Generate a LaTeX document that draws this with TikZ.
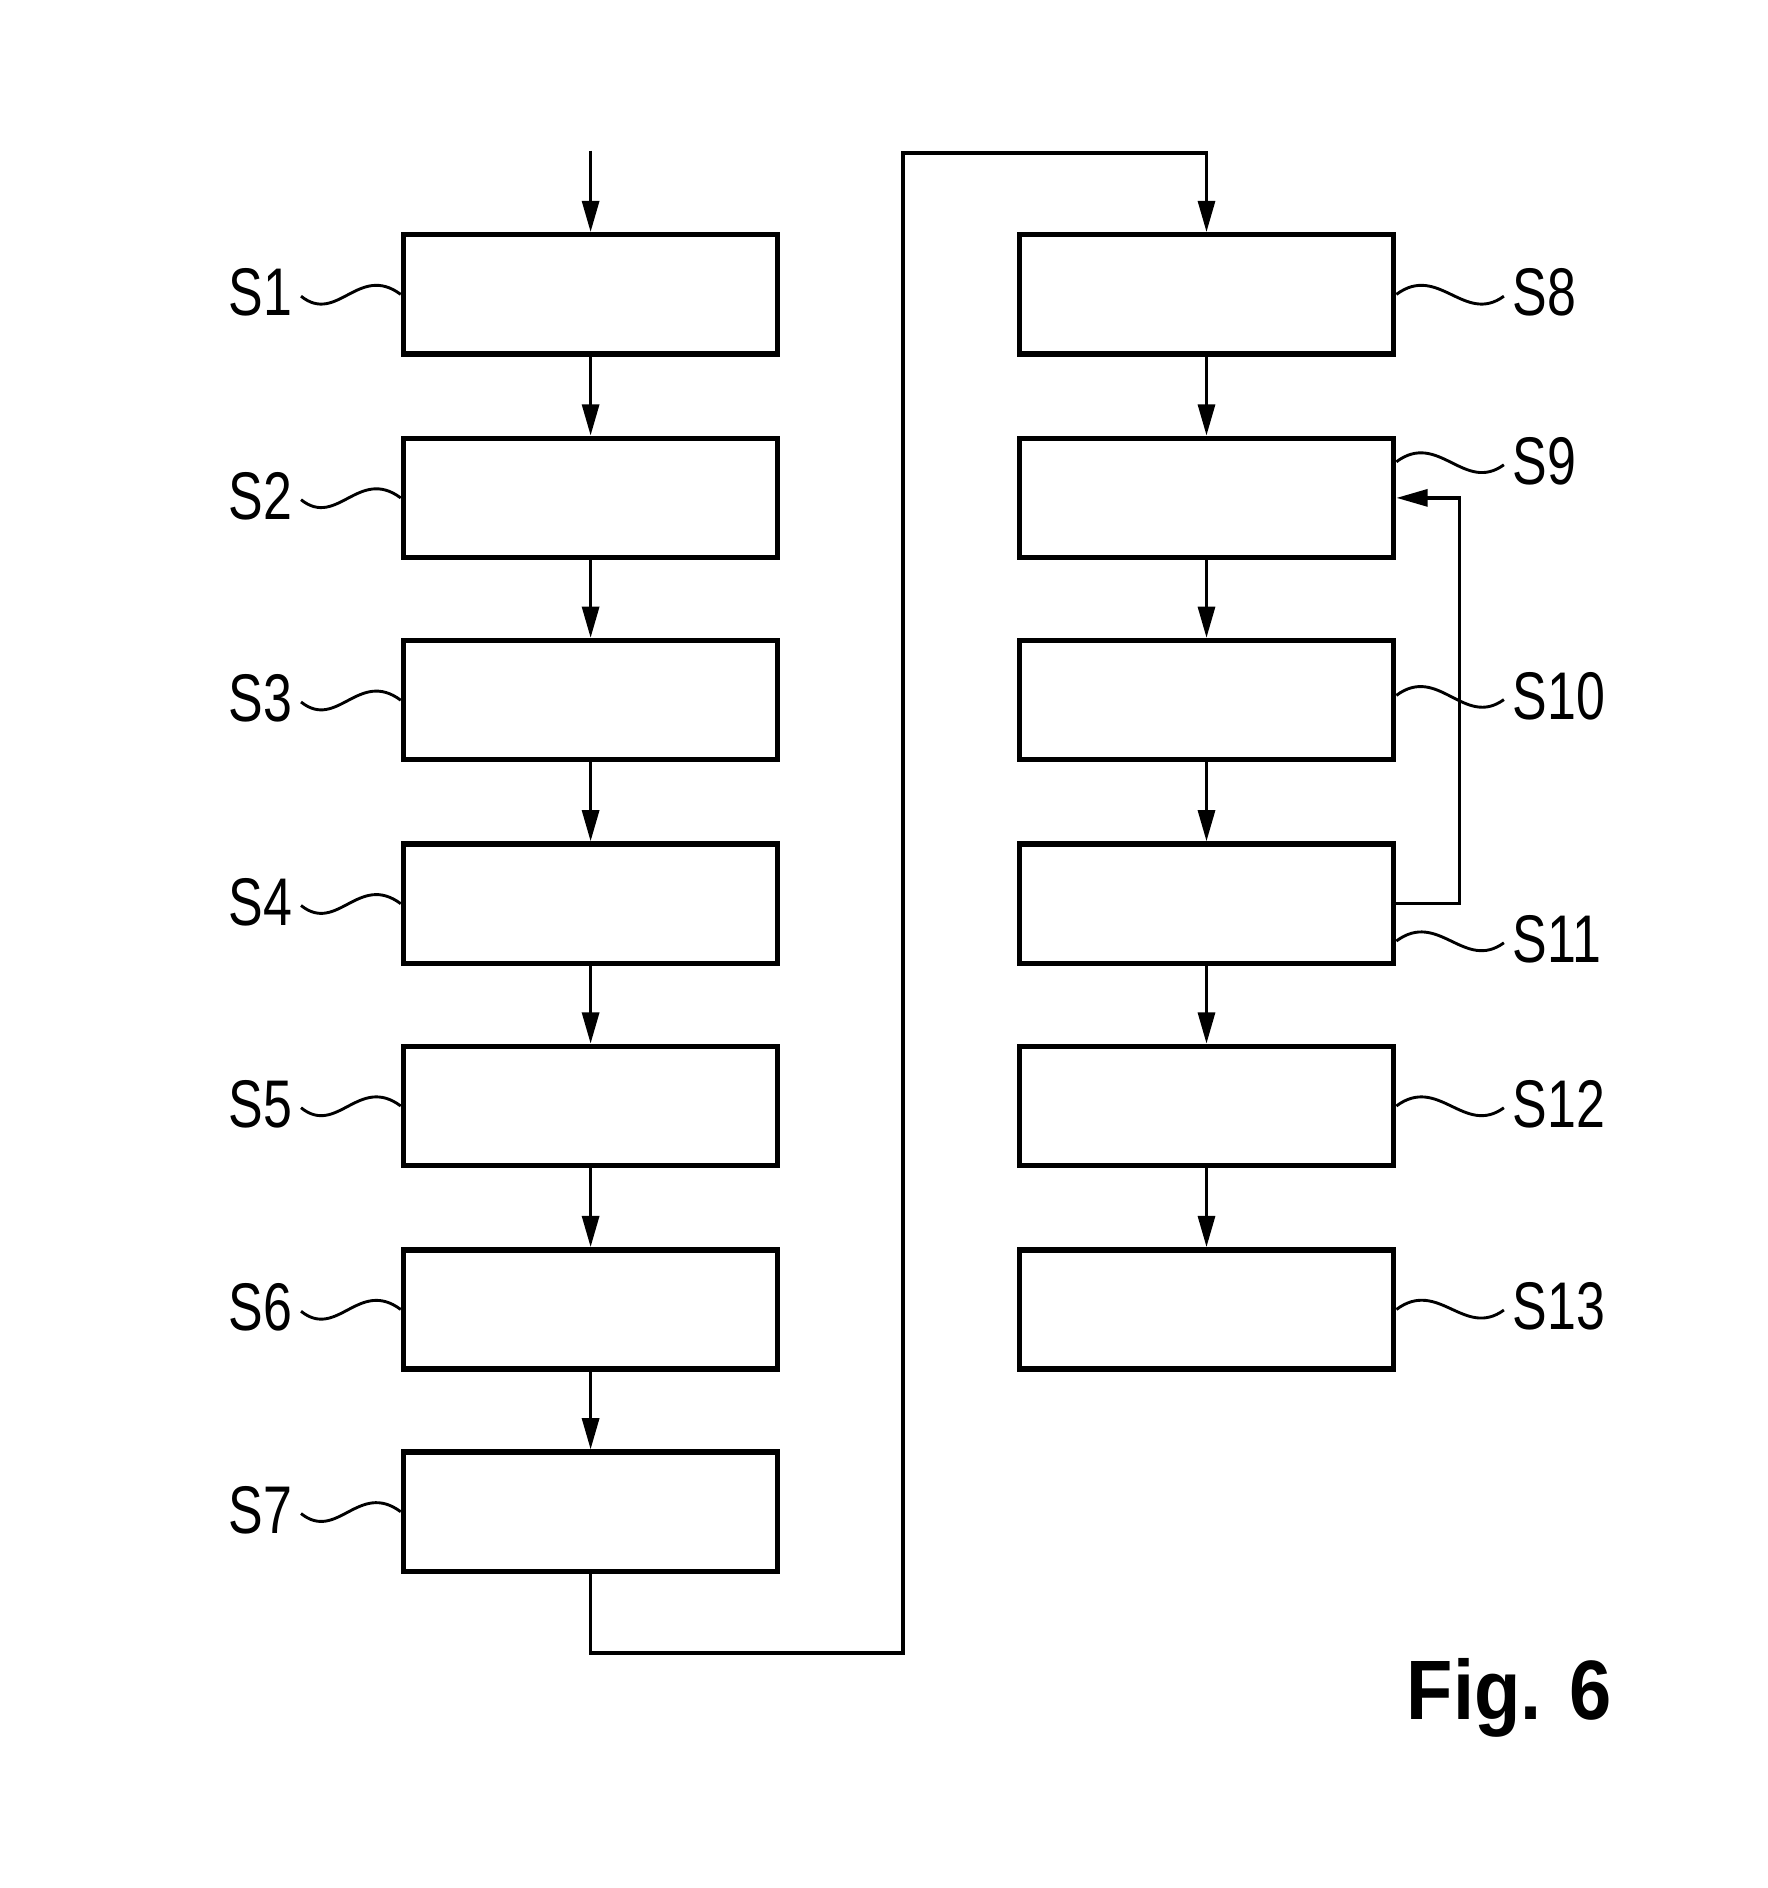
\documentclass[tikz,border=0pt]{standalone}
\usepackage{fontspec}
\usetikzlibrary{arrows.meta,calc}
\newfontfamily\labfont[FakeStretch=0.77]{Liberation Sans}
\newfontfamily\figfont[FakeStretch=0.9]{Liberation Sans}
\begin{document}
\begin{tikzpicture}[x=0.5pt,y=-0.5pt,
  stepbox/.style={draw,line width=2.2pt,rectangle,inner sep=0pt,minimum width=155.5pt,minimum height=49.5pt},
  conn/.style={line width=1.5pt,-{Triangle[length=13pt,width=7pt]}},
  squig/.style={line width=1.2pt},
  lablL/.style={anchor=east,inner xsep=3.5pt,inner ysep=0pt,font=\labfont\fontsize{28}{28}\selectfont},
  lablR/.style={anchor=west,inner xsep=3.5pt,inner ysep=0pt,font=\labfont\fontsize{28}{28}\selectfont}]
\useasboundingbox (0,0) rectangle (1468,1568);
% left column boxes
\node[stepbox] (b1) at (490.5,244.5) {};
\node[stepbox] (b2) at (490.5,413.5) {};
\node[stepbox] (b3) at (490.5,581.5) {};
\node[stepbox] (b4) at (490.5,750.5) {};
\node[stepbox] (b5) at (490.5,918.5) {};
\node[stepbox] (b6) at (490.5,1087.5) {};
\node[stepbox] (b7) at (490.5,1255.5) {};
% right column boxes
\node[stepbox] (b8) at (1002,244.5) {};
\node[stepbox] (b9) at (1002,413.5) {};
\node[stepbox] (b10) at (1002,581.5) {};
\node[stepbox] (b11) at (1002,750.5) {};
\node[stepbox] (b12) at (1002,918.5) {};
\node[stepbox] (b13) at (1002,1087.5) {};
% labels left
\node[lablL] (l1) at (250,243) {S1};
\node[lablL] (l2) at (250,412) {S2};
\node[lablL] (l3) at (250,580) {S3};
\node[lablL] (l4) at (250,749) {S4};
\node[lablL] (l5) at (250,917) {S5};
\node[lablL] (l6) at (250,1086) {S6};
\node[lablL] (l7) at (250,1254) {S7};
% labels right
\node[lablR] (l8) at (1249,243) {S8};
\node[lablR] (l9) at (1249,383) {S9};
\node[lablR] (l10) at (1249,578) {S10};
\node[lablR] (l11) at (1249,780) {S11};
\node[lablR] (l12) at (1249,917) {S12};
\node[lablR] (l13) at (1249,1085) {S13};
% squiggles left
\foreach \i in {1,...,7}{
  \draw[squig] ($(l\i.east)+(0,3)$) .. controls +(30,24) and +(-35,-26) .. (b\i.west);
}
% squiggles right
\draw[squig] (b8.east) .. controls +(35,-26) and +(-33,24) .. ($(l8.west)+(0,3)$);
\draw[squig] ($(b9.east)+(0,-30)$) .. controls +(35,-26) and +(-33,24) .. ($(l9.west)+(0,3)$);
\draw[squig] ($(b10.east)+(0,-4)$) .. controls +(35,-26) and +(-33,24) .. ($(l10.west)+(0,3)$);
\draw[squig] ($(b11.east)+(0,31)$) .. controls +(35,-26) and +(-33,24) .. ($(l11.west)+(0,3)$);
\draw[squig] (b12.east) .. controls +(35,-26) and +(-33,24) .. ($(l12.west)+(0,3)$);
\draw[squig] (b13.east) .. controls +(35,-26) and +(-33,24) .. ($(l13.west)+(0,3)$);
% flow connectors
\coordinate (start) at (490.5,125);
\draw[conn] (start) -- (b1);
\draw[conn] (b1) -- (b2);
\draw[conn] (b2) -- (b3);
\draw[conn] (b3) -- (b4);
\draw[conn] (b4) -- (b5);
\draw[conn] (b5) -- (b6);
\draw[conn] (b6) -- (b7);
\coordinate (cb) at (750,1373);
\coordinate (ct) at (750,127);
\draw[conn] (b7.south) |- (cb) -- (ct) -| (b8.north);
\draw[conn] (b8) -- (b9);
\draw[conn] (b9) -- (b10);
\draw[conn] (b10) -- (b11);
\draw[conn] (b11) -- (b12);
\draw[conn] (b12) -- (b13);
% feedback loop
\coordinate (fb) at (1212,580);
\draw[conn] (b11.east) -| (fb) |- (b9.east);
% figure caption
\node[anchor=base west,inner sep=0pt,font=\figfont\bfseries\fontsize{35}{35}\selectfont] (fig) at (1168,1428) {Fig. 6};
\end{tikzpicture}
\end{document}
